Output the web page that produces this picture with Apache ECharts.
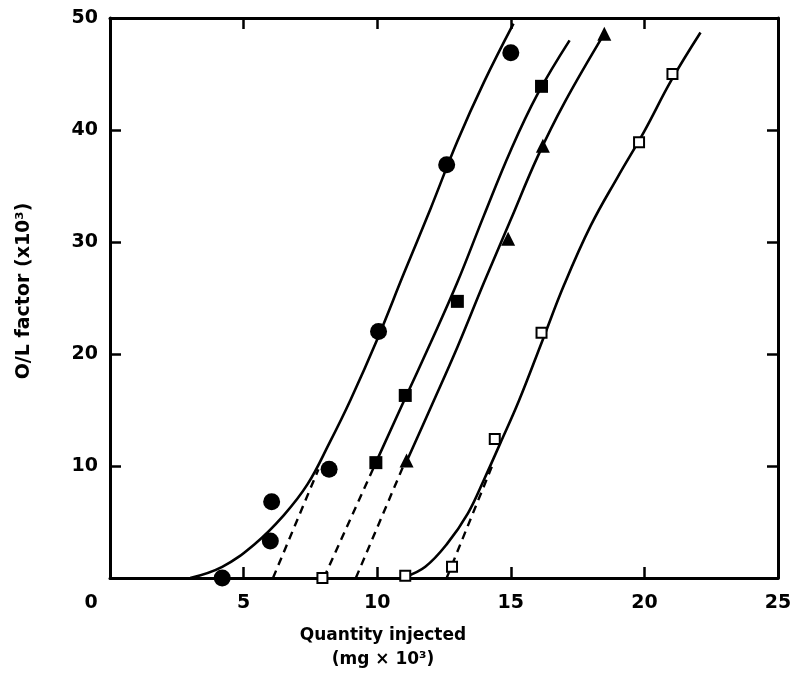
<!DOCTYPE html>
<html>
<head>
<meta charset="utf-8">
<script src="https://cdn.jsdelivr.net/npm/echarts@6/dist/echarts.min.js"></script>
<style>
  html, body { margin: 0; padding: 0; background: #fff; }
  #chart { width: 796px; height: 673px; }
</style>
</head>
<body>
<div id="chart"></div>
<script>
// measured points (x = quantity injected, y = O/L factor)
const circlePts = [[4.2, 0], [6.0, 3.3], [6.05, 6.8], [8.2, 9.7], [10.05, 22.0], [12.6, 36.9], [15.0, 46.9]]
const squarePts = [[9.95, 10.3], [11.05, 16.3], [13.0, 24.7], [16.15, 43.9]]
const trianglePts = [[11.1, 10.5], [14.9, 30.3], [16.2, 38.6], [18.5, 48.6]]
const openSquarePts = [[7.95, 0], [11.05, 0.2], [12.8, 1.0], [14.4, 12.4], [16.15, 21.9], [19.8, 38.9], [21.05, 45.0]]

// hand-drawn fitted curves
const circleCurve = [[3.0, 0], [4.2, 1.0], [5.4, 3.0], [6.5, 5.6], [7.4, 8.4], [8.2, 12.0], [9.0, 15.9], [10.0, 21.3], [11.0, 27.2], [12.0, 33.0], [13.0, 39.0], [14.0, 44.3], [15.1, 49.5]]
const squareCurve = [[9.95, 10.3], [11.0, 15.8], [12.0, 21.0], [13.0, 26.4], [14.0, 32.4], [15.0, 38.2], [16.0, 43.2], [17.2, 48.0]]
const triangleCurve = [[11.1, 10.4], [12.0, 15.2], [13.0, 20.6], [14.0, 26.4], [15.0, 32.0], [16.0, 37.6], [17.0, 42.4], [18.5, 48.6]]
const openSquareCurve = [[11.05, 0.1], [11.8, 1.0], [12.6, 3.0], [13.4, 5.8], [14.0, 8.8], [14.6, 12.0], [15.3, 15.8], [16.2, 21.3], [17.0, 26.2], [18.0, 31.5], [19.0, 35.8], [20.0, 39.9], [21.0, 44.4], [22.1, 48.7]]

// dashed extrapolations to the x axis
const circleDash = [[6.1, 0], [7.8, 9.7]]
const squareDash = [[8.0, 0], [9.95, 10.3]]
const triangleDash = [[9.2, 0], [11.05, 10.4]]
const openSquareDash = [[12.6, 0], [14.3, 10.0]]

const xTicks = [0, 5, 10, 15, 20, 25]
const yTicks = [0, 10, 20, 30, 40, 50]

const chart = echarts.init(document.getElementById('chart'), null, { renderer: 'canvas' })

const font = 'DejaVu Sans'
const axisLine = { show: true, onZero: false, lineStyle: { color: '#000', width: 3 } }
const innerTick = { show: true, inside: true, length: 11, lineStyle: { color: '#000', width: 2.5 } }

function curve(data) {
  return {
    type: 'line', data, smooth: 0.4, symbol: 'none', z: 2,
    lineStyle: { color: '#000', width: 2.6 },
  }
}
function dash(data) {
  return {
    type: 'line', data, symbol: 'none', z: 2,
    lineStyle: { color: '#000', width: 2.4, type: [8, 6] },
  }
}
function marks(data, symbol, size, style) {
  return {
    type: 'scatter', data, symbol, symbolSize: size, z: 3,
    itemStyle: Object.assign({ color: '#000', opacity: 1 }, style),
  }
}

const option = {
  animation: false,
  grid: { left: 110, right: 18, top: 18, bottom: 95 },
  xAxis: [
    {
      type: 'value', min: xTicks[0], max: xTicks[xTicks.length - 1], interval: 5,
      axisLine, axisTick: innerTick, splitLine: { show: false },
      axisLabel: {
        margin: 16, color: '#000', fontFamily: font, fontWeight: 'bold', fontSize: 19,
        formatter: v => v === 0 ? '{z|0}' : String(v),
        rich: { z: { padding: [0, 38, 0, 0], fontFamily: font, fontWeight: 'bold', fontSize: 19, color: '#000' } },
      },
    },
    {
      type: 'value', position: 'top', min: 0, max: 25, interval: 5,
      axisLine, axisTick: innerTick, axisLabel: { show: false }, splitLine: { show: false },
    },
  ],
  yAxis: [
    {
      type: 'value', min: yTicks[0], max: yTicks[yTicks.length - 1], interval: 10,
      axisLine, axisTick: innerTick, splitLine: { show: false },
      axisLabel: {
        margin: 12, color: '#000', fontFamily: font, fontWeight: 'bold', fontSize: 19,
        formatter: v => v === 0 ? '' : String(v),
      },
      name: 'O/L factor (x10³)', nameLocation: 'middle', nameGap: 76, nameRotate: 90,
      nameTextStyle: { color: '#000', fontFamily: font, fontWeight: 'bold', fontSize: 19, padding: [0, 0, 0, 14] },
    },
    {
      type: 'value', position: 'right', min: 0, max: 50, interval: 10,
      axisLine, axisTick: innerTick, axisLabel: { show: false }, splitLine: { show: false },
    },
  ],
  graphic: [
    {
      type: 'text', x: 383, y: 624,
      style: {
        text: 'Quantity injected\n(mg × 10³)', align: 'center', verticalAlign: 'top',
        font: 'bold 17px "DejaVu Sans"', fill: '#000', lineHeight: 24,
      },
    },
  ],
  series: [
    curve(circleCurve), curve(squareCurve), curve(triangleCurve), curve(openSquareCurve),
    dash(circleDash), dash(squareDash), dash(triangleDash), dash(openSquareDash),
    marks(circlePts, 'circle', 17),
    marks(squarePts, 'rect', 13),
    marks(trianglePts, 'triangle', 14),
    marks(openSquarePts, 'rect', 10, { color: '#fff', borderColor: '#000', borderWidth: 2 }),
  ],
}

chart.setOption(option)
</script>
</body>
</html>
